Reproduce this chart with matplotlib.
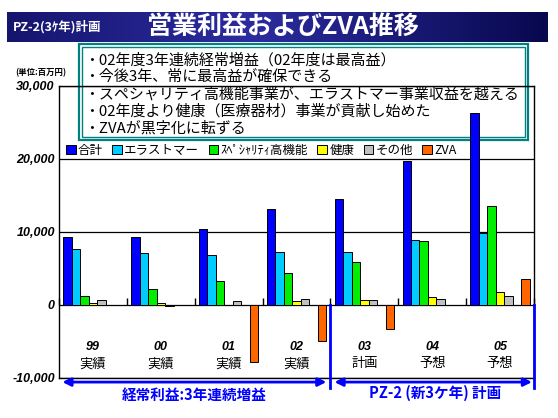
import numpy as np
import matplotlib
matplotlib.use("Agg")
import matplotlib.pyplot as plt
from matplotlib.patches import Rectangle
from matplotlib.transforms import blended_transform_factory
from matplotlib.colors import LinearSegmentedColormap

plt.rcParams['font.family'] = ['Noto Sans CJK JP', 'DejaVu Sans']

# ---------------- data ----------------
years = ["99", "00", "01", "02", "03", "04", "05"]
kinds = ["実績", "実績", "実績", "実績", "計画", "予想", "予想"]
series_names = ["合計", "エラストマー", "ｽﾍﾟｼｬﾘﾃｨ高機能", "健康", "その他", "ZVA"]
total = [9300, 9300, 10400, 13100, 14500, 19700, 26300]
elastomer = [7600, 7100, 6800, 7200, 7200, 8900, 9900]
specialty = [1150, 2100, 3200, 4400, 5900, 8700, 13600]
health = [280, 280, 0, 450, 650, 1050, 1750]
other = [700, -100, 450, 830, 650, 780, 1250]
zva = [None, None, -7800, -4900, -3300, None, 3600]
yticks = [-10000, 0, 10000, 20000, 30000]
ytick_labels = ["-10,000", "0", "10,000", "20,000", "30,000"]
bullets = [
    "・02年度3年連続経常増益（02年度は最高益）",
    "・今後3年、常に最高益が確保できる",
    "・スペシャリティ高機能事業が、エラストマー事業収益を越える",
    "・02年度より健康（医療器材）事業が貢献し始めた",
    "・ZVAが黒字化に転ずる",
]
header_left = "PZ-2(3ｹ年)計画"
title = "営業利益およびZVA推移"
unit = "(単位:百万円)"
span_left = "経常利益:3年連続増益"
span_right = "PZ-2 (新3ケ年) 計画"

colors = ["#0000FF", "#00CCFF", "#00EE00", "#FFFF00", "#C0C0C0", "#FF6600"]
slots = [0, 1, 2, 3, 4, 6]   # slot 5 is empty in the original layout

W, H = 558, 418
fig = plt.figure(figsize=(W / 100, H / 100), dpi=100)
fig.patch.set_facecolor("white")

def fx(px):
    return px / W

def fy(py):
    return 1 - py / H

# ---------------- header bar ----------------
hax = fig.add_axes([fx(7), fy(42), fx(548) - fx(7), fy(12) - fy(42)])
cmap = LinearSegmentedColormap.from_list(
    "hdr", [(0, "#15156e"), (0.45, "#2c2ca0"), (1, "#08084f")])
grad = np.linspace(0, 1, 256).reshape(1, -1)
hax.imshow(grad, aspect="auto", cmap=cmap, extent=[0, 1, 0, 1])
hax.set_axis_off()
fig.text(fx(13), fy(27), header_left, color="white", fontsize=9,
         fontweight="bold", va="center", ha="left")
fig.text(fx(147), fy(27), title, color="white", fontsize=18,
         fontweight="bold", va="center", ha="left")

# ---------------- text box ----------------
bx0, by0, bx1, by1 = 79, 44, 528, 140
fig.patches.append(Rectangle((fx(bx0), fy(by1)), fx(bx1) - fx(bx0), fy(by0) - fy(by1),
                             transform=fig.transFigure, facecolor="white",
                             edgecolor="#008080", linewidth=1.6, zorder=1))
fig.patches.append(Rectangle((fx(bx0 + 3), fy(by1 - 3)), fx(bx1 - 3) - fx(bx0 + 3),
                             fy(by0 + 3) - fy(by1 - 3),
                             transform=fig.transFigure, facecolor="none",
                             edgecolor="#008080", linewidth=1.0, zorder=1))
for i, line in enumerate(bullets):
    fig.text(fx(84), fy(60 + i * 17.2), line, fontsize=10.8, va="center",
             ha="left", color="black", zorder=1.5)

fig.text(fx(15), fy(73), unit, fontsize=6, fontweight="bold", va="center", ha="left")

# ---------------- main axes ----------------
ax = fig.add_axes([fx(59), fy(377.7), fx(534) - fx(59), fy(86) - fy(377.7)])
ax.set_zorder(2)
ax.patch.set_alpha(0)

x = np.arange(len(years))
slot_w = 1 / 8
data = [total, elastomer, specialty, health, other, zva]
handles = []
for name, vals, col, s in zip(series_names, data, colors, slots):
    v = np.array([np.nan if a is None else a for a in vals], dtype=float)
    b = ax.bar(x + (s - 3) * slot_w, v, width=slot_w, color=col,
               edgecolor="black", linewidth=0.7, label=name, zorder=3)
    handles.append(b)

ax.set_xlim(-0.5, len(years) - 0.5)
ax.set_ylim(-10000, 30000)
ax.set_yticks(yticks)
ax.set_yticklabels(ytick_labels, fontsize=9, fontstyle="italic",
                   fontweight="bold", family=["Liberation Sans", "DejaVu Sans"])
ax.tick_params(axis="y", length=0, pad=3)
ax.set_xticks([])
ax.yaxis.grid(True, color="black", linewidth=0.9)
ax.set_axisbelow(True)
for sp in ax.spines.values():
    sp.set_color("black")
    sp.set_linewidth(1.0)

# ticks on the zero line between categories
sec = ax.secondary_xaxis(0.25)
sec.set_xticks(np.arange(len(years) + 1) - 0.5)
sec.tick_params(direction="in", length=5, width=1, labelbottom=False)
sec.spines["bottom"].set_visible(False)

# category labels
trans = blended_transform_factory(ax.transData, ax.transAxes)
for xi, yr, kd in zip(x, years, kinds):
    ax.text(xi, 0.105, yr, transform=trans, ha="center", va="center",
            fontsize=9, fontstyle="italic", fontweight="bold",
            family=["Liberation Sans", "DejaVu Sans"])
    ax.text(xi, 0.047, kd, transform=trans, ha="center", va="center", fontsize=9.5)

# legend
ax.legend(handles=handles, loc="center left", bbox_to_anchor=(0.015, 0.78),
          ncol=6, frameon=False, fontsize=9, handlelength=0.75, handleheight=0.75,
          handletextpad=0.2, columnspacing=0.75, borderaxespad=0, borderpad=0)

# bottom arrows and spans
blue = "#0000FF"
ay = -0.015
ax.annotate("", xy=(-0.45, ay), xytext=(3.44, ay), xycoords=trans, textcoords=trans,
            arrowprops=dict(arrowstyle="<|-|>", color=blue, lw=2, mutation_scale=12,
                            shrinkA=0, shrinkB=0), annotation_clip=False)
ax.annotate("", xy=(3.56, ay), xytext=(6.47, ay), xycoords=trans, textcoords=trans,
            arrowprops=dict(arrowstyle="<|-|>", color=blue, lw=2, mutation_scale=12,
                            shrinkA=0, shrinkB=0), annotation_clip=False)
for xv in (3.5, 6.5):
    ax.plot([xv, xv], [0.25, -0.035], transform=trans, color=blue, lw=2,
            clip_on=False, zorder=4)
ax.text(1.5, -0.059, span_left, transform=trans, ha="center", va="center",
        color=blue, fontsize=10.5, fontweight="bold")
ax.text(5.05, -0.053, span_right, transform=trans, ha="center", va="center",
        color=blue, fontsize=10.5, fontweight="bold")

fig.savefig("out.png", dpi=100)
